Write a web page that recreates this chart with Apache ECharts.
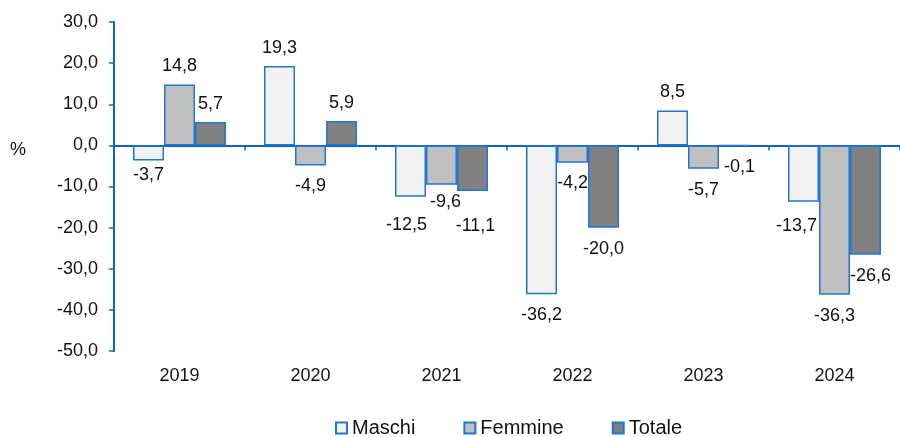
<!DOCTYPE html>
<html>
<head>
<meta charset="utf-8">
<script src="https://cdn.jsdelivr.net/npm/echarts@6/dist/echarts.min.js"></script>
<style>
  html, body { margin: 0; padding: 0; background: #fff; }
  #main { width: 900px; height: 437px; }
</style>
</head>
<body>
<div id="main"></div>
<script>
// dati
var anni = ['2019', '2020', '2021', '2022', '2023', '2024'];
var maschi = [-3.7, 19.3, -12.5, -36.2, 8.5, -13.7];
var femmine = [14.8, -4.9, -9.6, -4.2, -5.7, -36.3];
var totale = [5.7, 5.9, -11.1, -20.0, -0.1, -26.6];
var yTicks = [-50, -40, -30, -20, -10, 0, 10, 20, 30];

// piccoli spostamenti delle etichette, come nel grafico originale
var offMaschi = [[0, -7], [0, 0], [-4, 7], [0, 0], [0, 0], [-7, 3]];
var offFemmine = [[0, 0], [0, 0], [4, -4], [0, -1], [0, 0], [0, 0]];
var offTotale = [[0, 0], [0, 0], [3, 14], [0, 0], [5, 0], [5, 0]];

var FONT = 'Liberation Sans, Arial, sans-serif';
var BLU = '#0a66cc';
var BORDO = '#1f77d6';

function fmt(v) {
  return v.toFixed(1).replace('.', ',');
}

function costruisci(valori, offs) {
  var out = [];
  for (var i = 0; i < valori.length; i++) {
    var v = valori[i];
    out.push({
      value: v,
      label: {
        position: v >= 0 ? 'top' : 'bottom',
        distance: v >= 0 ? 9 : 12,
        offset: offs[i]
      }
    });
  }
  return out;
}

function serie(nome, valori, offs, colore) {
  return {
    name: nome,
    type: 'bar',
    xAxisIndex: 0,
    barWidth: 31,
    barGap: '0%',
    itemStyle: { color: colore, borderColor: BORDO, borderWidth: 1.5 },
    label: {
      show: true,
      fontFamily: FONT,
      fontSize: 18,
      color: '#111',
      formatter: function (p) { return fmt(p.value); }
    },
    emphasis: { disabled: true },
    data: costruisci(valori, offs),
    z: 3
  };
}

var chart = echarts.init(document.getElementById('main'), null, { renderer: 'canvas' });

var option = {
  backgroundColor: '#ffffff',
  animation: false,
  grid: { left: 114, right: -6, top: 22, bottom: 86, containLabel: false },
  legend: {
    left: 330,
    top: 413,
    itemWidth: 11,
    itemHeight: 11,
    itemGap: 48,
    icon: 'rect',
    textStyle: { fontFamily: FONT, fontSize: 20, color: '#111' },
    data: ['Maschi', 'Femmine', 'Totale']
  },
  graphic: [{
    type: 'text',
    left: 10,
    top: 141,
    style: { text: '%', font: '18px ' + FONT, fill: '#111' }
  }],
  xAxis: [
    {
      type: 'category',
      data: anni,
      position: 'bottom',
      axisLine: { show: false, onZero: false },
      axisTick: { show: false },
      axisLabel: { margin: 16, fontFamily: FONT, fontSize: 18, color: '#111' }
    },
    {
      type: 'category',
      data: anni,
      position: 'bottom',
      axisLine: { show: true, onZero: true, lineStyle: { color: BLU, width: 2 } },
      axisTick: { show: true, length: 5, lineStyle: { color: BLU, width: 1.5 } },
      axisLabel: { show: false }
    }
  ],
  yAxis: {
    type: 'value',
    min: yTicks[0],
    max: yTicks[yTicks.length - 1],
    interval: 10,
    axisLine: { show: true, lineStyle: { color: BLU, width: 2 } },
    axisTick: { show: true, length: 5, lineStyle: { color: BLU, width: 1.5 } },
    splitLine: { show: false },
    axisLabel: {
      margin: 16,
      fontFamily: FONT,
      fontSize: 18,
      color: '#111',
      formatter: function (v) { return fmt(v); }
    }
  },
  series: [
    serie('Maschi', maschi, offMaschi, '#f2f2f2'),
    serie('Femmine', femmine, offFemmine, '#c0c0c0'),
    serie('Totale', totale, offTotale, '#808080')
  ]
};

chart.setOption(option);
</script>
</body>
</html>
